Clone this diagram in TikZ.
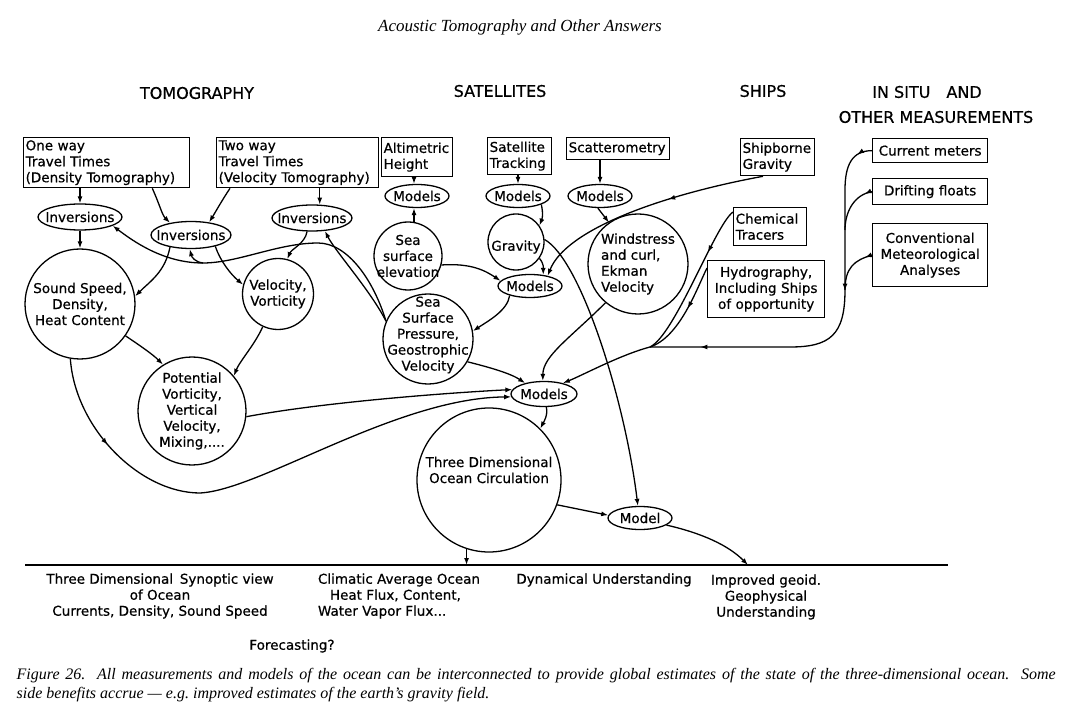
\documentclass[tikz,border=0pt]{standalone}
\usepackage{fontspec}
\setmainfont{Liberation Serif}
\newfontfamily\letterfont[FakeBold=0.6]{DejaVu Sans}
\usetikzlibrary{shapes.geometric, arrows.meta, decorations.markings}

\begin{document}
\begin{tikzpicture}[x=1pt, y=-1pt, line width=1.3pt,
    lettering/.style={font=\letterfont\fontsize{13.5}{16}\selectfont},
    heading/.style={font=\letterfont\fontsize{16}{18}\selectfont},
    box/.style={draw, rectangle, anchor=north west, inner sep=2pt, lettering, align=left},
    oval/.style={draw, ellipse, inner sep=0pt},
    disc/.style={draw, circle, inner sep=0pt},
    every label/.style={lettering, align=center, inner sep=0pt},
    arr/.style={-{Latex[length=7pt,width=5pt]}},
    midarrow/.style={postaction={decorate, decoration={markings,
        mark=at position #1 with {\arrow{Latex[length=7pt,width=5pt]}}}}}]

    \useasboundingbox (0,0) rectangle (1069,711);

    \node[font=\itshape\fontsize{17}{20}\selectfont] (runhead) at (520,27) {Acoustic Tomography and Other Answers};

    % column headings
    \node[heading] (htomo) at (197,93) {TOMOGRAPHY};
    \node[heading] (hsat) at (500,91) {SATELLITES};
    \node[heading] (hship) at (763,91) {SHIPS};
    \node[heading] (hsitu) at (927,92) {IN SITU\quad AND};
    \node[heading] (hother) at (936,117) {OTHER MEASUREMENTS};

    % measurement boxes
    \node[box, text width=162pt, minimum height=50] (oneway) at (23,137) {One way\\Travel Times\\(Density Tomography)};
    \node[box, text width=158pt, minimum height=50] (twoway) at (216,137) {Two way\\Travel Times\\(Velocity Tomography)};
    \node[box, text width=67pt, minimum height=39] (altim) at (381,137) {Altimetric\\Height};
    \node[box, text width=60pt, minimum height=37] (sattr) at (487,137) {Satellite\\Tracking};
    \node[box, text width=99pt, minimum height=22] (scatt) at (566,137) {Scatterometry};
    \node[box, text width=70pt, minimum height=37] (shipg) at (740,138) {Shipborne\\Gravity};
    \node[box, text width=69pt, minimum height=38] (chem) at (733,207) {Chemical\\Tracers};
    \node[box, text width=113pt, minimum height=57, align=center] (hydro) at (707,260) {Hydrography,\\Including Ships\\of opportunity};
    \node[box, text width=111pt, minimum height=24, align=center] (curm) at (872,138) {Current meters};
    \node[box, text width=111pt, minimum height=26, align=center] (drift) at (872,178) {Drifting floats};
    \node[box, text width=111pt, minimum height=63, align=center] (conv) at (872,223) {Conventional\\Meteorological\\Analyses};

    % inversions and models
    \node[oval, minimum width=84, minimum height=26, label=center:Inversions] (invL) at (80,217) {};
    \node[oval, minimum width=80, minimum height=27, label=center:Inversions] (invM) at (191,235) {};
    \node[oval, minimum width=80, minimum height=26, label=center:Inversions] (invR) at (312,218) {};
    \node[oval, minimum width=64, minimum height=23, label=center:Models] (modA) at (417,196) {};
    \node[oval, minimum width=64, minimum height=23, label=center:Models] (modS) at (518,196) {};
    \node[oval, minimum width=64, minimum height=23, label=center:Models] (modW) at (600,196) {};
    \node[oval, minimum width=64, minimum height=23, label=center:Models] (modC) at (530,286) {};
    \node[oval, minimum width=66, minimum height=25, label=center:Models] (modM) at (544,394) {};
    \node[oval, minimum width=64, minimum height=23, label=center:Model] (model) at (640,518) {};

    % derived quantities
    \node[disc, minimum size=110, label={center:Sound Speed,\\Density,\\Heat Content}] (ssd) at (80,304) {};
    \node[disc, minimum size=71, label={center:Velocity,\\Vorticity}] (vel) at (278,294) {};
    \node[disc, minimum size=108, label={center:Potential\\Vorticity,\\Vertical\\Velocity,\\Mixing,....}] (pv) at (192,411) {};
    \node[disc, minimum size=68, label={center:Sea\\surface\\elevation}] (sse) at (408,256) {};
    \node[disc, minimum size=56, label={[yshift=-5pt]center:Gravity}] (grav) at (516,242) {};
    \node[disc, minimum size=100, label={[align=left]center:Windstress\\and curl,\\Ekman\\Velocity}] (wind) at (638,264) {};
    \node[disc, minimum size=90, label={[yshift=4pt]center:Sea\\Surface\\Pressure,\\Geostrophic\\Velocity}] (ssp) at (428,339) {};
    \node[disc, minimum size=144, label={[yshift=10pt]center:Three Dimensional\\Ocean Circulation}] (tdoc) at (489,480) {};

    % tomography
    \draw[arr] (oneway.south -| invL) -- (invL.north);
    \draw[arr] (invL.south) -- (ssd.north);
    \draw[arr] ([xshift=-38pt]oneway.south east) .. controls +(8,18) and +(-8,-8) .. (invM.150);
    \draw[arr] ([xshift=14pt]twoway.south west) .. controls +(-8,12) and +(5,-8) .. (invM.35);
    \draw[arr] (invR.60 |- twoway.south) -- (invR.60);
    \draw[arr] (invM.210) .. controls +(-5,25) and +(15,-15) .. (ssd.8);
    \draw[arr] (invM.-25) .. controls +(5,15) and +(-12,-10) .. (vel.165);
    \draw[arr] (invR.-110) .. controls +(-2,12) and +(4,-10) .. (vel.75);
    \draw[arr] (ssd.-35) .. controls +(15,10) and +(-10,-10) .. (pv.122);
    \draw[arr] (vel.-115) .. controls +(-8,18) and +(6,-15) .. (pv.40);

    % back from sea surface pressure
    \coordinate (ridge) at (318,243);
    \coordinate (dip) at (203,263);
    \draw[arr] (ssp.157) .. controls +(-15,-30) and +(10,20) .. (invR.-45);
    \draw[arr] (ssp.157) .. controls +(-12,-40) and +(30,0) .. (ridge)
        .. controls +(-40,0) and +(35,0) .. (dip)
        .. controls +(-40,0) and +(20,15) .. (invL.-15);
    \draw[arr] (dip) .. controls +(-8,-1) and +(2,8) .. (invM.-95);

    \coordinate (trough) at (200,493);
    \draw[arr, midarrow=0.18] (ssd.-100) .. controls +(5,70) and +(-60,0) .. (trough)
        .. controls +(60,-3) and +(-115,1) .. (modM.185);
    \draw[arr] (pv.-6) .. controls +(80,-15) and +(-60,3) .. (modM.172);

    % satellites
    \draw[arr] (altim.south -| sse.80) -- (sse.80 |- modA.north);
    \draw[arr] (sse.80) -- (sse.80 |- modA.south);
    \draw[arr] (sattr.south -| modS) -- (modS.north);
    \draw[arr] (scatt.south -| modW) -- (modW.north);
    \draw[arr] (modS.-20) .. controls +(2,10) and +(3,-8) .. (grav.35);
    \draw[arr] (grav.-35) .. controls +(5,6) and +(0,-6) .. (modC.40);
    \draw[arr] (sse.-15) .. controls +(30,-2) and +(-15,-10) .. (modC.170);
    \draw[arr] (modC.-155) .. controls +(-2,15) and +(15,-10) .. (ssp.10);
    \draw[arr] (modW.-100) -- (wind.125);
    \draw[arr] (grav.5) .. controls +(36,20) and +(-13,-107) .. (model.100);
    \draw[arr] (ssp.-30) .. controls +(20,5) and +(-15,-10) .. (modM.150);
    \draw[arr] (wind.-130) .. controls +(-35,35) and +(0,-25) .. (modM.95);

    % ships
    \draw[arr, midarrow=0.4] ([xshift=23pt]shipg.south west) .. controls +(-103,19) and +(18,-46) .. (modC.30);
    \coordinate (join) at (650,347);
    \draw[midarrow=0.3] ([yshift=-5pt]chem.north west) .. controls +(-18,13) and +(25,-12) .. (join);
    \draw[midarrow=0.45] ([yshift=-8pt]hydro.north west) .. controls +(-10,20) and +(30,-10) .. (join);
    \draw[arr] (join) .. controls +(-30,8) and +(20,-8) .. (modM.30);

    % in situ
    \coordinate (trunktop) at (845,190);
    \coordinate (trunkbot) at (845,290);
    \coordinate (bend) at (790,347);
    \draw[midarrow=0.04, midarrow=0.4, midarrow=0.87] (curm.west) .. controls +(-20,0) and +(0,-25) .. (trunktop)
        -- (trunkbot) .. controls +(0,45) and +(40,0) .. (bend) -- (join);
    \draw[midarrow=0.15] (drift.west) .. controls +(-18,3) and +(0,-18) .. ([yshift=-40pt]trunktop);
    \draw[midarrow=0.15] (conv.west) .. controls +(-18,5) and +(0,-22) .. (trunkbot);

    % circulation and results
    \coordinate (baseL) at (25,565);
    \coordinate (baseR) at (948,565);
    \coordinate (geoid) at (748,565);
    \draw (baseL) -- (baseR);
    \draw[arr] (modM.-80) .. controls +(2,8) and +(3,-6) .. (tdoc.45);
    \draw[arr] (tdoc.-20) -- (model.175);
    \draw[arr] (tdoc.-108) -- (tdoc.-108 |- baseL);
    \draw[arr] (model.-15) .. controls +(35,8) and +(-20,-20) .. (geoid);

    \node[lettering, align=center] (synoptic) at (160,596) {Three Dimensional\enspace Synoptic view\\of Ocean\\Currents, Density, Sound Speed};
    \node[lettering, align=left, anchor=west] (climatic) at (314,596) {Climatic Average Ocean\\\hspace*{12pt}Heat Flux, Content,\\Water Vapor Flux...};
    \node[lettering] (dynam) at (604,580) {Dynamical Understanding};
    \node[lettering, align=center] (geoidtxt) at (766,597) {Improved geoid.\\Geophysical\\Understanding};
    \node[lettering] (forecast) at (292,646) {Forecasting?};

    \node[anchor=north west, inner sep=0pt, text width=1039pt, align=justify,
        font=\itshape\fontsize{16}{19}\selectfont] (caption) at (16,668)
        {Figure 26.\ \ All measurements and models of the ocean can be interconnected to provide global estimates of the state of the three-dimensional ocean.\ \ Some\linebreak side benefits accrue --- e.g.\ improved estimates of the earth's gravity field.};
\end{tikzpicture}
\end{document}
